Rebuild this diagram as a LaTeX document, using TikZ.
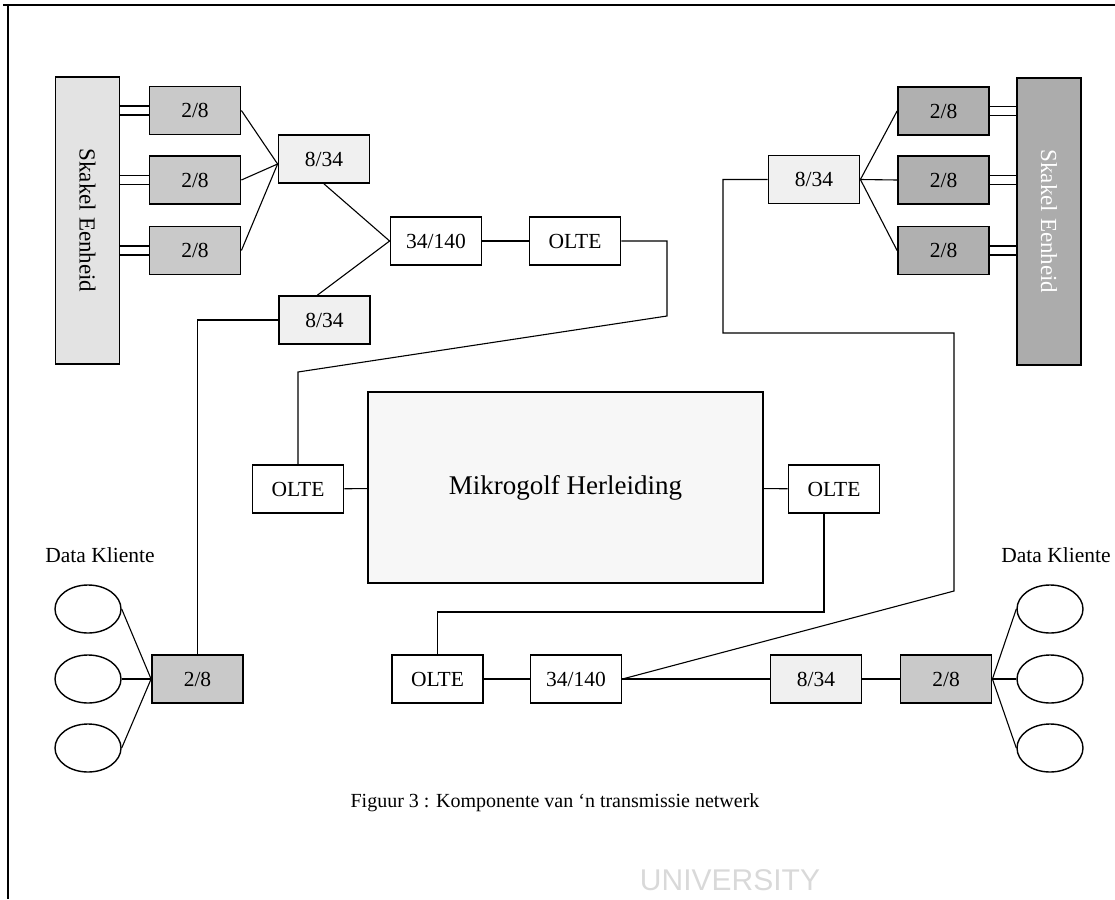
\documentclass[tikz,border=0pt]{standalone}
\usepackage{fontspec}
\setmainfont{Liberation Serif}
\newfontfamily\unifont{Liberation Sans}
\usetikzlibrary{positioning,shapes.geometric}

\begin{document}
\begin{tikzpicture}[x=1pt,y=-1pt,line width=1.1pt,
  every node/.style={font=\fontsize{21.5}{24}\selectfont},
  box/.style={draw,line width=1.8pt,minimum width=91pt,minimum height=48pt,inner sep=0pt},
  plain/.style={box,fill=white},
  dots/.style={box,fill=gray!12},
  grey/.style={box,fill=gray!42},
  dark/.style={box,fill=gray!62},
  unit/.style={box,minimum width=64pt,minimum height=287pt},
  klient/.style={draw,ellipse,line width=1.4pt,minimum width=66pt,minimum height=48pt}]
  \useasboundingbox (0,0) rectangle (1115,899);
  \draw[line width=2pt] (3,5) -- (1115,5) (8,5) -- (8,899);

  \node[unit,fill=gray!22,label={[rotate=-90,font=\fontsize{23}{24}\selectfont]center:Skakel Eenheid}] (skL) at (87.5,220.5) {};
  \node[grey] (dL1) at (195,110.5) {2/8};
  \node[grey] (dL2) at (195,180) {2/8};
  \node[grey] (dL3) at (195,250.5) {2/8};
  \node[dots] (mL1) at (324,159) {8/34};
  \node[dots] (mL2) at (324.5,320) {8/34};
  \node[plain] (tU) at (436,241) {34/140};
  \node[plain] (oU) at (575,241) {OLTE};

  \node[unit,fill=gray!65,label={[rotate=-90,text=white,font=\fontsize{23}{24}\selectfont]center:Skakel Eenheid}] (skR) at (1049,221.5) {};
  \node[dark] (dR1) at (943.5,111) {2/8};
  \node[dark] (dR2) at (943.5,180) {2/8};
  \node[dark] (dR3) at (943.5,250.5) {2/8};
  \node[dots] (mR) at (814,179.5) {8/34};

  \node[box,fill=gray!6,minimum width=395pt,minimum height=191pt,font=\fontsize{27}{30}\selectfont] (mw) at (565.5,487.5) {Mikrogolf Herleiding};
  \node[plain] (oL) at (298,489) {OLTE};
  \node[plain] (oR) at (834,489) {OLTE};

  \node[plain] (oB) at (437.5,679) {OLTE};
  \node[plain] (tB) at (576,679) {34/140};
  \node[dots] (mB) at (816,679) {8/34};
  \node[grey] (dB) at (946,679) {2/8};
  \node[grey] (dC) at (197.5,679) {2/8};

  \node (dkL) at (100,555) {Data Kliente};
  \node (dkR) at (1056,555) {Data Kliente};
  \foreach \i/\y in {1/609,2/679,3/748}{
    \node[klient] (cL\i) at (88,\y) {};
    \node[klient] (cR\i) at (1050,\y) {};
    \draw (dC.west) -- (cL\i.east);
    \draw (dB.east) -- (cR\i.west);
  }

  \foreach \i in {1,2,3}{
    \draw ([yshift=4.5pt]dL\i.west) -- ([yshift=4.5pt]dL\i.west -| skL.east);
    \draw ([yshift=-4.5pt]dL\i.west) -- ([yshift=-4.5pt]dL\i.west -| skL.east);
    \draw ([yshift=4.5pt]dR\i.east) -- ([yshift=4.5pt]dR\i.east -| skR.west);
    \draw ([yshift=-4.5pt]dR\i.east) -- ([yshift=-4.5pt]dR\i.east -| skR.west);
    \draw (dL\i.east) -- ([yshift=-5pt]mL1.west);
    \draw (mR.east) -- (dR\i.west);
  }
  \draw (mL1.south) -- (tU.west);
  \draw ([xshift=-7pt]mL2.north) -- (tU.west);
  \draw (tU) -- (oU);
  \coordinate (k1) at (667,316);
  \coordinate (k2) at (298,372);
  \draw (oU.east) -| (k1) -- (k2) -- (oL.north);
  \draw (oL) -- (mw);
  \draw (mw) -- (oR);
  \draw (mL2.west) -| (dC.north);
  \coordinate (k3) at (824,612);
  \draw ([xshift=-10pt]oR.south) -- (k3) -| (oB.north);
  \draw (oB) -- (tB);
  \draw (tB) -- (mB);
  \draw (mB) -- (dB);
  \coordinate (k4) at (954,591);
  \coordinate (k5) at (723,333);
  \draw (tB.east) -- (k4) |- (k5) |- (mR.west);

  \node[font=\fontsize{20}{24}\selectfont] (cap) at (555,803) {Figuur 3 : Komponente van `n transmissie netwerk};
  \node[text=gray!30,font=\unifont\fontsize{30}{32}\selectfont] (uni) at (730,880) {UNIVERSITY};
\end{tikzpicture}
\end{document}
